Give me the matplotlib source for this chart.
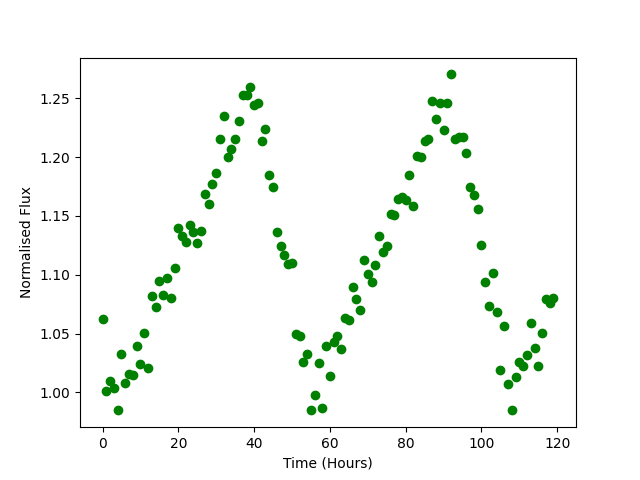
import numpy as np
import matplotlib
matplotlib.use("Agg")
import matplotlib.pyplot as plt

# hourly samples
hours = np.arange(120)
flux = [
    1.0627, 1.0014, 1.0094, 1.0040, 0.9847, 1.0329, 1.0077, 1.0153, 1.0145, 1.0391,
    1.0244, 1.0508, 1.0210, 1.0822, 1.0729, 1.0950, 1.0831, 1.0975, 1.0805, 1.1060,
    1.1401, 1.1329, 1.1281, 1.1426, 1.1367, 1.1267, 1.1372, 1.1690, 1.1605, 1.1767,
    1.1868, 1.2157, 1.2352, 1.1996, 1.2072, 1.2157, 1.2302, 1.2526, 1.2526, 1.2596,
    1.2440, 1.2463, 1.2134, 1.2234, 1.1851, 1.1749, 1.1366, 1.1247, 1.1171, 1.1088,
    1.1097, 1.0493, 1.0482, 1.0261, 1.0329, 0.9847, 0.9974, 1.0253, 0.9870, 1.0397,
    1.0136, 1.0428, 1.0482, 1.0372, 1.0635, 1.0612, 1.0899, 1.0797, 1.0697, 1.1128,
    1.1003, 1.0941, 1.1085, 1.1332, 1.1196, 1.1247, 1.1514, 1.1505, 1.1647, 1.1660,
    1.1633, 1.1851, 1.1582, 1.2009, 1.1996, 1.2134, 1.2151, 1.2474, 1.2327, 1.2463,
    1.2228, 1.2463, 1.2702, 1.2157, 1.2166, 1.2174, 1.2038, 1.1743, 1.1681, 1.1562,
    1.1250, 1.0935, 1.0737, 1.1012, 1.0686, 1.0193, 1.0561, 1.0068, 0.9847, 1.0128,
    1.0255, 1.0221, 1.0315, 1.0593, 1.0377, 1.0221, 1.0508, 1.0791, 1.0763, 1.0802,
]

plt.figure(figsize=(6.4, 4.8), dpi=100)
plt.plot(hours, flux, 'go')
plt.xlabel("Time (Hours)")
plt.ylabel("Normalised Flux")
plt.savefig("out.png")
